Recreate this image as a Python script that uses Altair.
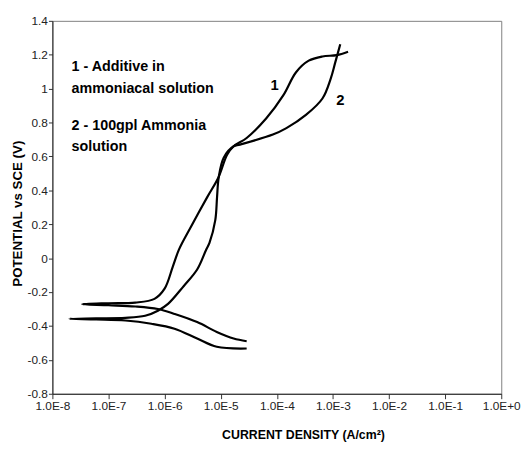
import altair as alt
import pandas as pd

# Curve 1 (Additive in ammoniacal solution): cathodic end -> Ecorr -> anodic end
c1_current = [2.9e-5, 1.7e-5, 8.5e-6, 3.8e-6, 1.5e-6, 7.6e-7, 3e-7, 1e-7, 3.4e-8,
              1e-7, 3e-7, 6.6e-7, 1e-6, 1.4e-6, 1.8e-6, 2.95e-6, 5.75e-6, 9.1e-6,
              1.3e-5, 1.7e-5, 2.9e-5, 6.5e-5, 1.3e-4, 2.2e-4, 3.7e-4, 6.5e-4, 1.17e-3, 1.86e-3]
c1_potential = [-0.49, -0.474, -0.435, -0.377, -0.329, -0.30, -0.285, -0.278, -0.272,
                -0.266, -0.262, -0.24, -0.18, -0.05, 0.05, 0.185, 0.36, 0.476,
                0.61, 0.66, 0.709, 0.825, 0.96, 1.097, 1.165, 1.19, 1.198, 1.218]

# Curve 2 (100gpl Ammonia solution)
c2_current = [2.9e-5, 8.5e-6, 3.8e-6, 1.5e-6, 5.8e-7, 2e-7, 6e-8, 2e-8,
              6e-8, 2e-7, 4.5e-7, 7.6e-7, 1.15e-6, 2.2e-6, 3.8e-6, 5.5e-6, 6.3e-6,
              8e-6, 8.6e-6, 9.2e-6, 1.13e-5, 1.7e-5, 2.2e-5, 8.5e-5, 1.48e-4,
              3.3e-4, 6.5e-4, 9.1e-4, 1.1e-3, 1.35e-3]
c2_potential = [-0.533, -0.523, -0.474, -0.416, -0.387, -0.368, -0.362, -0.358,
                -0.355, -0.352, -0.34, -0.31, -0.27, -0.164, -0.067, 0.05, 0.09,
                0.224, 0.36, 0.476, 0.593, 0.66, 0.67, 0.729, 0.767,
                0.845, 0.942, 1.058, 1.155, 1.262]

x_ticks = [1e-8, 1e-7, 1e-6, 1e-5, 1e-4, 1e-3, 1e-2, 1e-1, 1e0]
y_ticks = [-0.8, -0.6, -0.4, -0.2, 0, 0.2, 0.4, 0.6, 0.8, 1.0, 1.2, 1.4]

legend_text = ["1 - Additive in", "ammoniacal solution", "2 - 100gpl Ammonia", "solution"]
legend_x = [2.2e-8, 2.2e-8, 2.2e-8, 2.2e-8]
legend_y = [1.103, 0.975, 0.754, 0.632]

curve_labels = ["1", "2"]
curve_label_x = [9.1e-5, 1.36e-3]
curve_label_y = [1.02, 0.932]

rows = []
for name, cur, pot in [("1", c1_current, c1_potential), ("2", c2_current, c2_potential)]:
    for k, (c, p) in enumerate(zip(cur, pot)):
        rows.append({"curve": name, "seq": k, "i": c, "E": p, "t": ""})
df = pd.DataFrame(rows)

df_leg = pd.DataFrame({"t": legend_text, "i": legend_x, "E": legend_y})
df_lab = pd.DataFrame({"t": curve_labels, "i": curve_label_x, "E": curve_label_y})

FONT = "Liberation Sans"

xscale = alt.Scale(type="log", domain=[1e-8, 1], nice=False)
yscale = alt.Scale(domain=[-0.8, 1.4], nice=False, zero=False)

x_enc = alt.X(
    "i:Q", scale=xscale,
    axis=alt.Axis(
        values=x_ticks,
        labelExpr="'1.0E' + (round(log(datum.value)/LN10) >= 0 ? '+' : '') + round(log(datum.value)/LN10)",
        title="CURRENT DENSITY (A/cm²)",
        titleFont=FONT, titleFontSize=12.5, titleFontWeight="bold", titleColor="black",
        titleX=254, titleY=45, titleBaseline="alphabetic", titleAlign="center",
        labelFont=FONT, labelFontSize=12, labelColor="#222222", labelPadding=2,
        tickSize=5, tickColor="#333333", domainColor="#222222", grid=False,
        labelOverlap=False, labelFlush=False,
    ),
)
y_enc = alt.Y(
    "E:Q", scale=yscale,
    axis=alt.Axis(
        values=y_ticks,
        labelExpr="'' + round(datum.value*10)/10",
        title="POTENTIAL vs SCE (V)",
        titleFont=FONT, titleFontSize=13.5, titleFontWeight="bold", titleColor="black",
        titleX=-35, titleY=195, titleBaseline="middle",
        labelFont=FONT, labelFontSize=12, labelColor="#222222", labelPadding=1,
        tickSize=4, tickColor="#333333", domainColor="#222222", grid=False,
        labelOverlap=False, labelFlush=False,
    ),
)

lines = alt.Chart(df).mark_line(color="black", strokeWidth=2.2, interpolate="catmull-rom").encode(
    x=x_enc, y=y_enc, detail="curve:N", order="seq:Q"
)

legend = alt.Chart(df_leg).mark_text(
    align="left", baseline="alphabetic", font=FONT, fontSize=14.5, fontWeight="bold", color="black"
).encode(x=x_enc, y=y_enc, text="t:N")

labels = alt.Chart(df_lab).mark_text(
    align="center", baseline="middle", font=FONT, fontSize=15, fontWeight="bold", color="black"
).encode(x=x_enc, y=y_enc, text="t:N")

chart = alt.layer(lines, legend, labels).properties(
    width=455, height=378,
    autosize=alt.AutoSizeParams(type="none"),
    padding={"left": 45, "top": 10, "right": 20, "bottom": 55},
    background="white",
).configure_view(stroke="#808080", strokeWidth=1)

chart.save("out.html", embed_options={"renderer": "svg", "actions": False})
